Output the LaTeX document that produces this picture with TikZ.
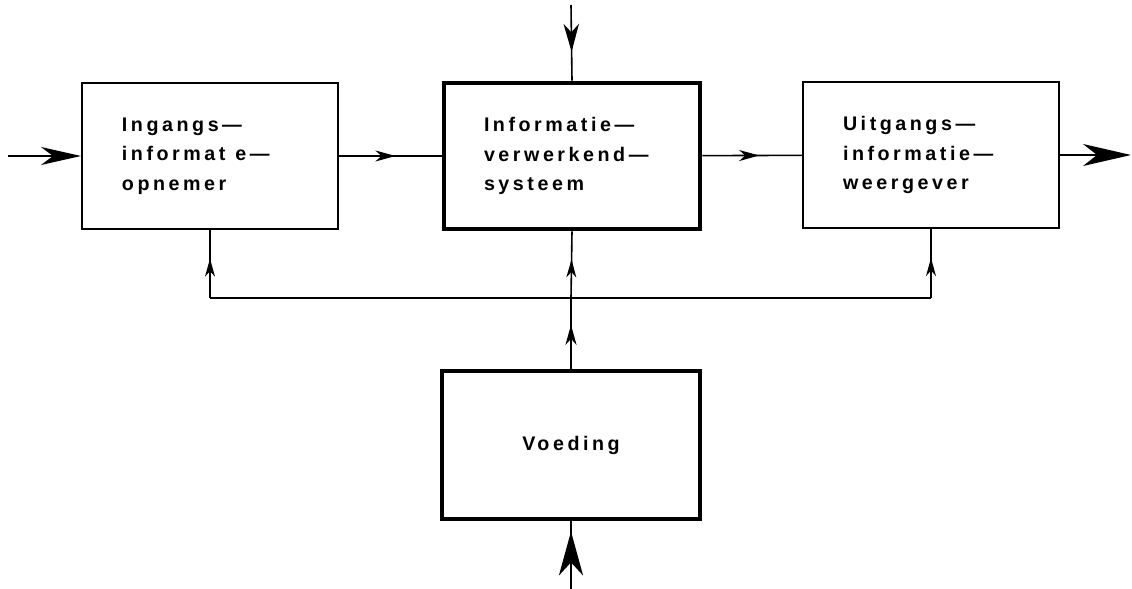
\documentclass[tikz,border=0pt]{standalone}
\usepackage{fontspec}
\newfontfamily\blockfont[LetterSpace=18]{Liberation Sans}
\usepackage{tikz}
\usetikzlibrary{
  positioning,
  arrows.meta,
  decorations.markings
}
\tikzset{
  >=Stealth,
  unit/.style={rectangle,draw,line width=0.5mm,minimum width=64mm,minimum height=36.5mm,
    inner xsep=10mm,text width=44mm,align=left,
    font=\blockfont\bfseries\fontsize{14}{21}\selectfont},
  mainunit/.style={unit,line width=1.2mm},
  wire/.style={line width=0.4mm},
  midarrow/.style 2 args={wire,postaction={decorate},decoration={markings,
    mark=at position #1 with {\arrow{Stealth[length=#2,width=0.55*#2,inset=0.3*#2]}}}}
}

\begin{document}
\begin{tikzpicture}[x=0.25mm,y=-0.25mm]
    \useasboundingbox (0,0) rectangle (1132,589);
    \node[unit] (opnemer) at (210,156) {Ingangs—\\informat\hspace{0.5em}e—\\opnemer};
    \node[mainunit] (verwerker) at (572,156) {Informatie—\\verwerkend—\\systeem};
    \node[unit] (weergever) at (931,155) {Uitgangs—\\informatie—\\weergever};
    \node[mainunit,align=center,minimum width=64.5mm,minimum height=37mm] (voeding) at (571,445) {Voeding};

    \coordinate (ingang) at (8,157);
    \coordinate (uitgang) at (1131,157);
    \coordinate (stuur) at (571,5);
    \coordinate (net) at (571,589);
    \coordinate (bus) at (571,298);
    \coordinate (busL) at (opnemer.south |- bus);
    \coordinate (busR) at (weergever.south |- bus);

    \draw[wire,-{Stealth[length=10mm,width=4.5mm,inset=3mm]}] (ingang |- opnemer.west) -- (opnemer.west);
    \draw[midarrow={0.55}{5mm}] (opnemer) -- (verwerker);
    \draw[midarrow={0.57}{5mm}] (verwerker) -- (weergever);
    \draw[wire,-{Stealth[length=12mm,width=5.5mm,inset=3.5mm]}] (weergever.east) -- (weergever.east -| uitgang);
    \draw[midarrow={0.62}{7mm}] (stuur) -- (verwerker.north);
    \draw[midarrow={0.85}{11mm}] (net) -- (voeding.south);

    \draw[midarrow={0.62}{5mm}] (voeding.north) -- (bus);
    \draw[wire] (busL) -- (busR);
    \draw[midarrow={0.58}{4.5mm}] (busL) -- (opnemer.south);
    \draw[midarrow={0.58}{4.5mm}] (bus) -- (verwerker.south);
    \draw[midarrow={0.58}{4.5mm}] (busR) -- (weergever.south);
\end{tikzpicture}
\end{document}
